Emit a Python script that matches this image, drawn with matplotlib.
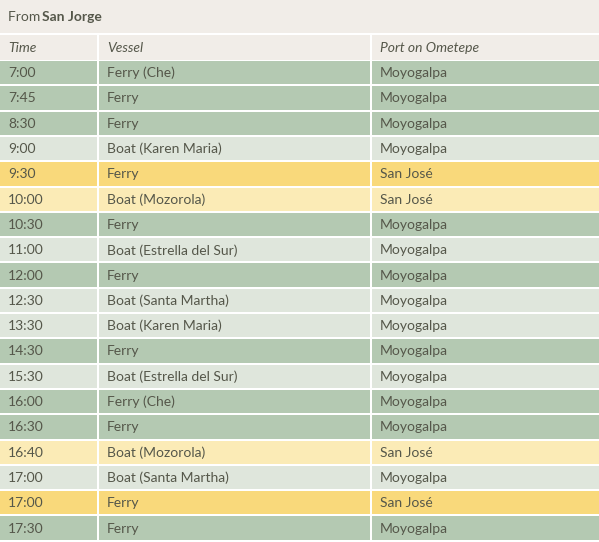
import matplotlib.pyplot as plt
from matplotlib.patches import Rectangle

times = ['7:00', '7:45', '8:30', '9:00', '9:30', '10:00', '10:30', '11:00', '12:00', '12:30',
         '13:30', '14:30', '15:30', '16:00', '16:30', '16:40', '17:00', '17:00', '17:30']
vessels = ['Ferry (Che)', 'Ferry', 'Ferry', 'Boat (Karen Maria)', 'Ferry', 'Boat (Mozorola)',
           'Ferry', 'Boat (Estrella del Sur)', 'Ferry', 'Boat (Santa Martha)', 'Boat (Karen Maria)',
           'Ferry', 'Boat (Estrella del Sur)', 'Ferry (Che)', 'Ferry', 'Boat (Mozorola)',
           'Boat (Santa Martha)', 'Ferry', 'Ferry']
ports = ['Moyogalpa', 'Moyogalpa', 'Moyogalpa', 'Moyogalpa', 'San José', 'San José',
         'Moyogalpa', 'Moyogalpa', 'Moyogalpa', 'Moyogalpa', 'Moyogalpa', 'Moyogalpa',
         'Moyogalpa', 'Moyogalpa', 'Moyogalpa', 'San José', 'Moyogalpa', 'San José', 'Moyogalpa']
headers = ['Time', 'Vessel', 'Port on Ometepe']

W, H = 599, 542
fig = plt.figure(figsize=(W / 100, H / 100), dpi=100)
ax = fig.add_axes([0, 0, 1, 1])
ax.set_xlim(0, W)
ax.set_ylim(H, 0)
ax.axis('off')
fig.patch.set_facecolor('white')

hdr_bg = '#f1ede8'
txt = '#55574a'
font = 'Lato'
cols = [(0, 97), (99, 370), (372, 599)]

# title band
ax.add_patch(Rectangle((0, 0), W, 33, color=hdr_bg, lw=0))
ax.text(8, 17, 'From ', fontsize=10, color=txt, family=font, va='center')
ax.text(42, 17, 'San Jorge', fontsize=10, color=txt, family=font, va='center', fontweight='bold')

# column headers
for (x0, x1), h in zip(cols, headers):
    ax.add_patch(Rectangle((x0, 35), x1 - x0, 25, color=hdr_bg, lw=0))
    ax.text(x0 + 8, 48, h, fontsize=10, color=txt, family=font, va='center', style='italic')

row_h = 25.3
y0 = 61
for i, (t, v, p) in enumerate(zip(times, vessels, ports)):
    ferry = v.startswith('Ferry')
    if p == 'San José':
        c = '#f9d97b' if ferry else '#fbebb6'
    else:
        c = '#b4c9b2' if ferry else '#dfe6dc'
    y = y0 + i * row_h
    for (x0, x1), s in zip(cols, (t, v, p)):
        ax.add_patch(Rectangle((x0, y), x1 - x0, row_h - 2, color=c, lw=0))
        ax.text(x0 + 8, y + (row_h - 2) / 2 + 0.5, s, fontsize=10, color=txt, family=font, va='center')

fig.savefig('out.png', dpi=100)
